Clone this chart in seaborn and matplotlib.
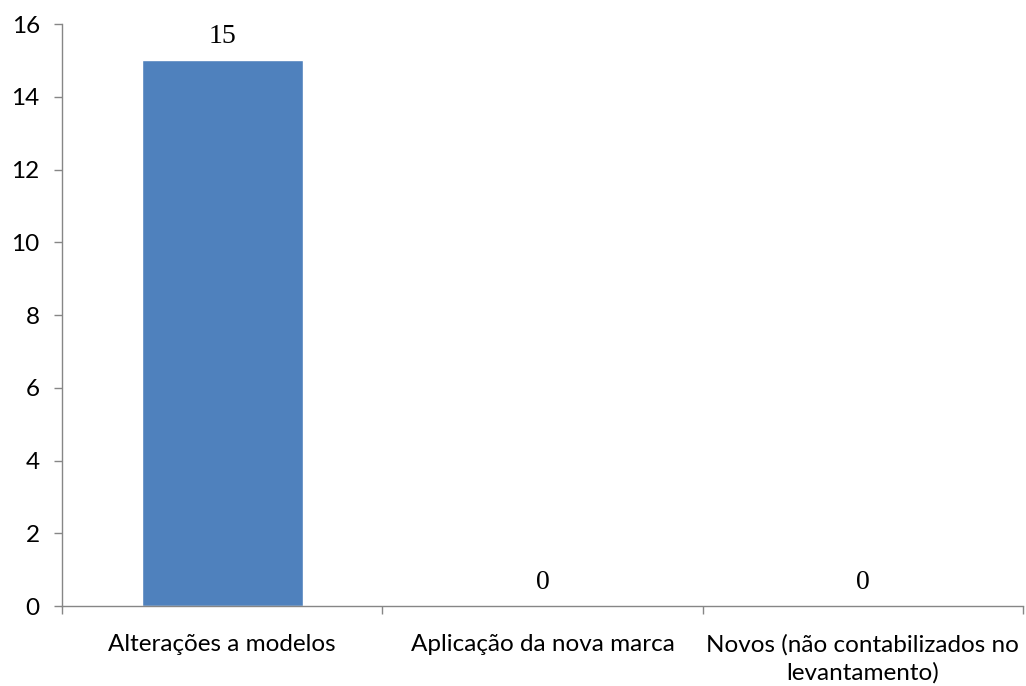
import matplotlib
matplotlib.use("Agg")
import matplotlib.pyplot as plt
import seaborn as sns
import pandas as pd
from matplotlib.ticker import FixedLocator, NullFormatter

categories = ["Alterações a modelos", "Aplicação da nova marca",
              "Novos (não contabilizados no\nlevantamento)"]
values = [15, 0, 0]
yticks = [0, 2, 4, 6, 8, 10, 12, 14, 16]

sns.set_theme(style="white")
plt.rcParams['font.family'] = ['Lato', 'DejaVu Sans']

df = pd.DataFrame({"cat": categories, "val": values})

fig = plt.figure(figsize=(10.26, 6.86), dpi=100)
ax = fig.add_axes([0.0604, 0.1166, 0.9366, 0.8484])

sns.barplot(data=df, x="cat", y="val", color="#4F81BD", saturation=1,
            width=0.503, ax=ax)

ax.set_xlim(-0.5, 2.5)
ax.set_ylim(0, 16)
ax.set_yticks(yticks)
ax.set_yticklabels([str(t) for t in yticks], fontsize=17.5, color="black")
ax.set_xlabel("")
ax.set_ylabel("")
ax.tick_params(axis="x", which="major", length=0, pad=20, labelsize=17.5, labelcolor="black")
for lab in ax.get_xticklabels():
    lab.set_multialignment("center")
    lab.set_linespacing(1.4)
ax.xaxis.set_minor_locator(FixedLocator([-0.5, 0.5, 1.5, 2.5]))
ax.xaxis.set_minor_formatter(NullFormatter())
ax.tick_params(axis="x", which="minor", length=6, width=1, color="#868686", direction="out", bottom=True)
ax.tick_params(axis="y", which="major", length=6, width=1, color="#868686", direction="out", left=True, pad=10)

for s in ["top", "right"]:
    ax.spines[s].set_visible(False)
for s in ["left", "bottom"]:
    ax.spines[s].set_color("#868686")
    ax.spines[s].set_linewidth(1)

for i, v in enumerate(values):
    ax.annotate(str(v), (i, v), xytext=(0, 8), textcoords="offset points",
                ha="center", va="bottom", fontsize=20,
                family=["Liberation Serif", "DejaVu Serif"], color="black")

fig.savefig("out.png", dpi=100)
